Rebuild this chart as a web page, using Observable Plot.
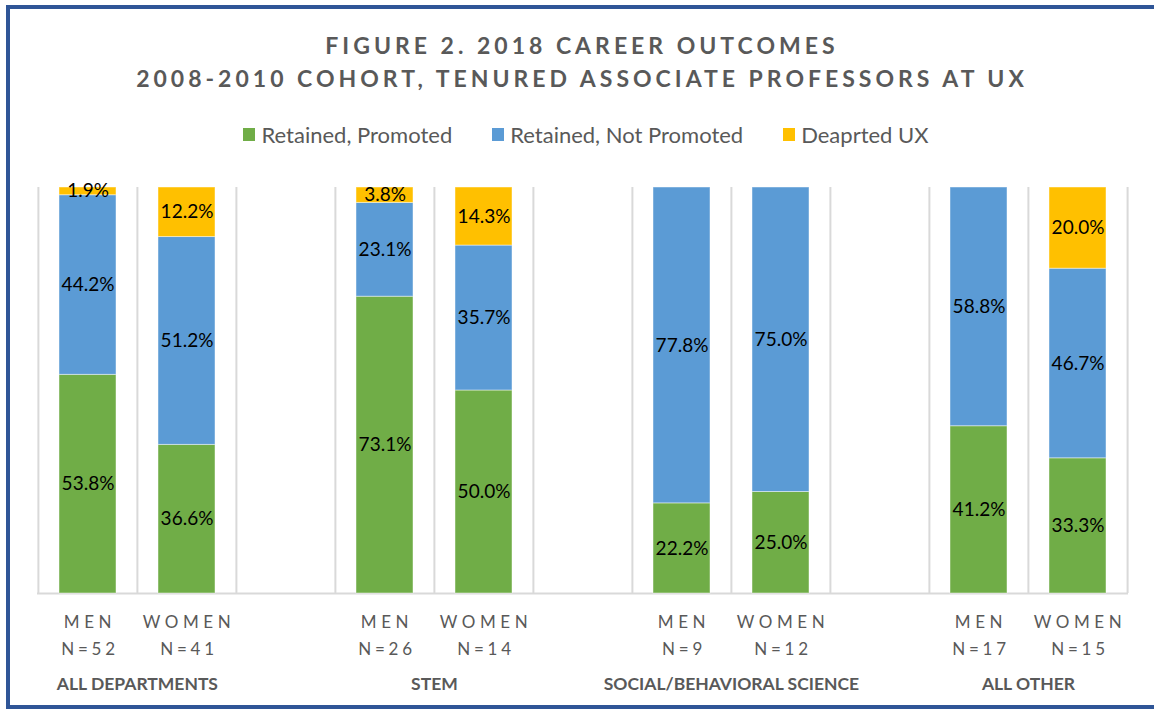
<!DOCTYPE html>
<html><head><meta charset="utf-8">
<script src="https://cdn.jsdelivr.net/npm/d3@7"></script>
<script src="https://cdn.jsdelivr.net/npm/@observablehq/plot@0.6"></script>
<style>
body{margin:0;background:#fff;}
#page{position:relative;width:1154px;height:709px;overflow:hidden;font-family:Lato,"Open Sans",sans-serif;background:#fff;}
#frame{position:absolute;left:6px;top:5px;width:1170px;height:704px;border:4px solid #2F5597;border-right:none;box-sizing:border-box;}
.title{position:absolute;left:0;width:1164px;text-align:center;font-weight:700;font-size:23px;letter-spacing:4px;color:#595959;white-space:nowrap;}
#legend{position:absolute;left:0;width:1172px;top:121px;display:flex;justify-content:center;gap:40px;font-size:22px;color:#595959;}
#legend .item{display:flex;align-items:center;gap:6px;}
#legend .sw{width:12px;height:13px;display:inline-block;}
#chart{position:absolute;left:0;top:170px;}
</style></head>
<body><div id="page">
<div id="frame"></div>
<div class="title" style="top:31px">FIGURE 2. 2018 CAREER OUTCOMES</div>
<div class="title" style="top:64px">2008-2010 COHORT, TENURED ASSOCIATE PROFESSORS AT UX</div>
<div id="legend"></div>
<div id="chart"></div>
</div>
<script>
const groups = ["ALL DEPARTMENTS", "STEM", "SOCIAL/BEHAVIORAL SCIENCE", "ALL OTHER"];
const genders = ["MEN", "WOMEN"];
const counts = [[52, 41], [26, 14], [9, 12], [17, 15]];
const outcomes = ["Retained, Promoted", "Retained, Not Promoted", "Deaprted UX"];
const colors = ["#70AD47", "#5B9BD5", "#FFC000"];
// order: group by group, MEN then WOMEN
const promoted    = [53.8, 36.6, 73.1, 50.0, 22.2, 25.0, 41.2, 33.3];
const notPromoted = [44.2, 51.2, 23.1, 35.7, 77.8, 75.0, 58.8, 46.7];
const departed    = [1.9, 12.2, 3.8, 14.3, 0, 0, 0, 20.0];

const series = [promoted, notPromoted, departed];

// slot domain: MEN, WOMEN, gap, ...
const slots = [];
groups.forEach((g, i) => {
  genders.forEach(s => slots.push(g + "|" + s));
  if (i < groups.length - 1) slots.push("gap" + i);
});
const bars = [];
groups.forEach((g, i) => genders.forEach((s, j) => bars.push({group: g, gender: s, n: counts[i][j], key: g + "|" + s, idx: i * 2 + j})));

const data = [];
outcomes.forEach((o, k) => bars.forEach(b => data.push({key: b.key, outcome: o, value: series[k][b.idx]})));

// legend
const leg = document.getElementById("legend");
outcomes.forEach((o, k) => {
  const it = document.createElement("div"); it.className = "item";
  const sw = document.createElement("span"); sw.className = "sw"; sw.style.background = colors[k];
  const tx = document.createElement("span"); tx.textContent = o;
  it.appendChild(sw); it.appendChild(tx); leg.appendChild(it);
});

const W = 1154, H = 539, mL = 37, mR = 26, mT = 17, mB = 116;
const bw = (W - mL - mR) / slots.length;
const grid = "#D9D9D9";
const textColor = "#595959";
const font = "Lato, 'Open Sans', sans-serif";

const chart = Plot.plot({
  width: W, height: H,
  marginLeft: mL, marginRight: mR, marginTop: mT, marginBottom: mB,
  style: {fontFamily: font, background: "transparent", overflow: "visible"},
  x: {domain: slots, padding: 0, axis: null},
  y: {domain: [0, 1], axis: null},
  color: {domain: outcomes, range: colors},
  marks: [
    Plot.ruleX(slots, {x: d => d, dx: -bw / 2, stroke: grid, strokeWidth: 2, y1: 0, y2: 1}),
    Plot.ruleX([slots[slots.length - 1]], {x: d => d, dx: bw / 2, stroke: grid, strokeWidth: 2, y1: 0, y2: 1}),
    Plot.ruleY([0], {stroke: grid, strokeWidth: 2}),
    Plot.barY(data, Plot.stackY({x: "key", y: "value", z: "outcome", fill: "outcome", offset: "normalize",
      insetLeft: 21, insetRight: 21, stroke: "#ffffff", strokeOpacity: 0.45, strokeWidth: 1})),
    Plot.text(data, Plot.stackY({x: "key", y: "value", z: "outcome", offset: "normalize",
      text: d => d3.format(".1f")(d.value) + "%", filter: d => d.value > 0,
      fill: "#000", fontSize: 19})),
    Plot.text(bars, {x: "key", text: "gender", frameAnchor: "bottom", dy: 34, fill: textColor, fontSize: 17, dx: 2}),
    Plot.text(bars, {x: "key", text: d => "N=" + d.n, frameAnchor: "bottom", dy: 61, fill: textColor, fontSize: 17, dx: 2}),
    Plot.text(bars.filter(b => b.gender === "WOMEN"), {x: "key", text: "group", frameAnchor: "bottom", dx: -bw / 2, dy: 96, fill: textColor, fontSize: 17.5, fontWeight: "bold"})
  ]
});
document.getElementById("chart").appendChild(chart);
d3.select(chart).selectAll("text").filter(function() {
  const t = this.textContent; return /^(MEN|WOMEN)$/.test(t);
}).style("letter-spacing", "4.6px");
d3.select(chart).selectAll("text").filter(function() {
  return /^N=/.test(this.textContent);
}).style("letter-spacing", "3.8px");
</script>
</body></html>
